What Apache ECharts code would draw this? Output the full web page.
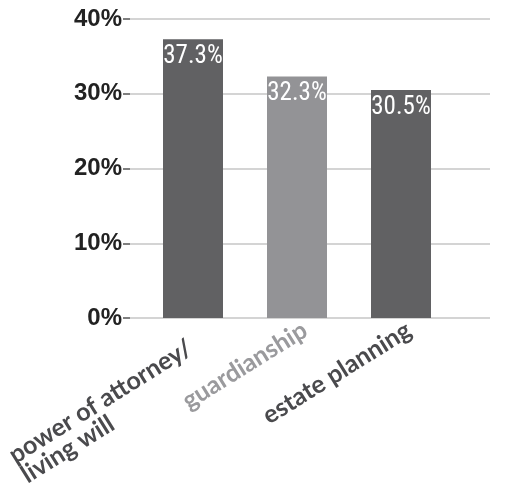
<!DOCTYPE html>
<html><head><meta charset="utf-8">
<script src="https://cdn.jsdelivr.net/npm/echarts@6/dist/echarts.min.js"></script>
<style>html,body{margin:0;padding:0;background:#fff}#c{width:507px;height:489px}</style>
</head><body><div id="c"></div>
<script>
const categories = ['power of attorney/\nliving will', 'guardianship', 'estate planning'];
const values = [37.3, 32.3, 30.5];
const barColors = ['#616163', '#939396', '#616163'];
const labelColors = ['#4a4a4d', '#9a9a9d', '#4a4a4d'];
const yTicks = [0, 10, 20, 30, 40];

const catFont = {fontSize: 25, fontWeight: 'bold', fontFamily: 'Lato', lineHeight: 23, align: 'left'};
const rich = {};
labelColors.forEach((c, i) => { rich['c' + i] = Object.assign({color: c}, catFont); });
const fmt = (v, i) => v.split('\n').map(s => '{c' + i + '|' + s + '}').join('\n');

const chart = echarts.init(document.getElementById('c'));
chart.setOption({
  animation: false,
  grid: [
    {left: 130, right: 17, top: 19, bottom: 171},
    {left: 141, right: 54, top: 19, bottom: 171},
    {left: 149, right: 46, top: 19, bottom: 171},
    {left: 144, right: 51, top: 50, bottom: 140}
  ],
  xAxis: [
    {gridIndex: 0, type: 'category', data: ['a'], show: false},
    {gridIndex: 1, type: 'category', data: categories, show: false},
    {gridIndex: 2, type: 'category', data: categories,
     axisLine: {show: false}, axisTick: {show: false},
     axisLabel: {rotate: 32, margin: 10, interval: 0, rich: rich,
       formatter: (v, i) => i === 0 ? '' : fmt(v, i)}},
    {gridIndex: 3, type: 'category', data: categories,
     axisLine: {show: false}, axisTick: {show: false},
     axisLabel: {rotate: 32, margin: 10, interval: 0, rich: rich,
       formatter: (v, i) => i === 0 ? fmt(v, i) : ''}}
  ],
  yAxis: [
    {gridIndex: 0, type: 'value', min: yTicks[0], max: yTicks[yTicks.length-1], interval: 10,
     axisLine: {show: false},
     axisTick: {show: true, length: 7, lineStyle: {color: '#555', width: 1.5}},
     axisLabel: {formatter: '{value}%', fontSize: 24, fontWeight: 'bold', color: '#222',
       fontFamily: 'Liberation Sans', margin: 8},
     splitLine: {show: true, lineStyle: {color: '#d4d4d4', width: 2}}},
    {gridIndex: 1, type: 'value', min: 0, max: 40, interval: 10, show: false, splitLine: {show: false}},
    {gridIndex: 2, type: 'value', min: 0, max: 40, interval: 10, show: false, splitLine: {show: false}},
    {gridIndex: 3, type: 'value', min: 0, max: 40, interval: 10, show: false, splitLine: {show: false}}
  ],
  series: [{
    type: 'bar', xAxisIndex: 1, yAxisIndex: 1, barWidth: 60,
    data: values.map((v, i) => ({value: v, itemStyle: {color: barColors[i]}})),
    label: {show: true, position: 'insideTop', distance: 5, color: '#fff', fontSize: 25, fontWeight: 'normal',
      fontFamily: '"Roboto Condensed", "Open Sans Condensed", "DejaVu Sans Condensed"',
      formatter: p => p.value.toFixed(1) + '%'}
  }]
});
</script></body></html>
